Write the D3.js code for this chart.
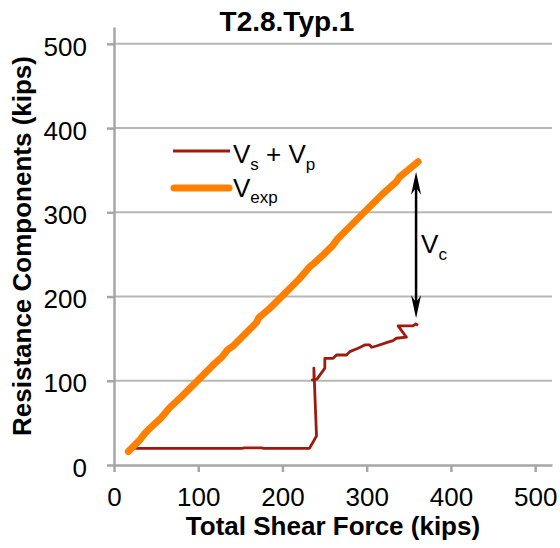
<!DOCTYPE html>
<html>
<head>
<meta charset="utf-8">
<script src="https://cdn.jsdelivr.net/npm/d3@7"></script>
<style>
  html, body { margin: 0; padding: 0; background: #fff; }
  svg { display: block; font-family: "Liberation Sans", Arial, sans-serif; }
</style>
</head>
<body>
<svg id="chart" width="560" height="548"></svg>
<script>
// Total shear force (kips) vs. V_s + V_p (kips)
const vsvpX = [17, 60, 100, 152, 155, 175, 178, 200, 232, 240.4, 237.3, 237.5, 235.5, 241, 250.3, 250.3, 260.1, 264.2, 276, 280, 289.8, 297.7, 303.7, 305.7, 311.6, 323.5, 331.3, 335.3, 347.2, 337.3, 355, 358.2, 361];
const vsvpY = [19.8, 19.8, 19.8, 19.8, 20.3, 20.3, 19.8, 19.8, 19.8, 34.5, 115, 101.5, 101, 102, 115, 126.7, 126.7, 130.6, 130.6, 134.6, 138.6, 142.5, 142.5, 139.8, 141.3, 145.2, 147.6, 150.5, 151.7, 165.1, 165.1, 167.5, 165.9];

// Total shear force (kips) vs. V_exp (kips)
const vexpX = [17, 30, 37, 42, 55, 61, 66, 80, 100, 120, 128, 135, 141, 155, 169, 172, 185, 203, 220, 233, 237, 250, 260, 265, 280, 296, 312, 318, 335, 339, 350, 361];
const vexpY = [16, 29, 38, 43, 55, 62, 68, 81, 101, 121, 128, 137, 141, 155, 169, 175, 186, 204, 221, 236, 239, 251, 261, 268, 283, 299, 315, 321, 336, 342, 351, 360];

const xTicks = [0, 100, 200, 300, 400, 500];
const yTicks = [0, 100, 200, 300, 400, 500];

const chartTitle = "T2.8.Typ.1";
const xTitle = "Total Shear Force (kips)";
const yTitle = "Resistance Components (kips)";

const svg = d3.select("#chart");
const plotLeft = 114, plotRight = 552, plotTop = 27, plotBottom = 465;

const x = d3.scaleLinear().domain([0, 520]).range([plotLeft, plotRight]);
const y = d3.scaleLinear().domain([0, 520]).range([plotBottom, plotTop]);

const axisColor = "#a6a6a6";
const gridColor = "#b7b7b7";
const fontSize = 26;

// horizontal gridlines
svg.append("g")
  .selectAll("line")
  .data(yTicks.filter(d => d > 0))
  .join("line")
  .attr("x1", plotLeft).attr("x2", plotRight)
  .attr("y1", d => y(d)).attr("y2", d => y(d))
  .attr("stroke", gridColor).attr("stroke-width", 2);

// axes
const xAxis = svg.append("g")
  .attr("transform", `translate(0,${plotBottom})`)
  .call(d3.axisBottom(x).tickValues(xTicks).tickSize(7).tickPadding(16).tickSizeOuter(0));
const yAxis = svg.append("g")
  .attr("transform", `translate(${plotLeft},0)`)
  .call(d3.axisLeft(y).tickValues(yTicks).tickSize(7).tickPadding(20).tickSizeOuter(0));

[xAxis, yAxis].forEach(g => {
  g.select(".domain").attr("stroke", axisColor).attr("stroke-width", 2.5);
  g.selectAll(".tick line").attr("stroke", axisColor).attr("stroke-width", 2.5);
  g.selectAll(".tick text")
    .attr("fill", "#000")
    .style("font-size", fontSize + "px")
    .style("font-family", "'Liberation Sans', Arial, sans-serif");
});
xAxis.selectAll(".tick text").attr("dy", "0.71em");
yAxis.selectAll(".tick text").attr("dy", "0.43em");

// series lines
const line = d3.line().x(d => x(d[0])).y(d => y(d[1]));
const vexp = vexpX.map((v, i) => [v, vexpY[i]]);
const vsvp = vsvpX.map((v, i) => [v, vsvpY[i]]);

svg.append("path")
  .datum(vsvp)
  .attr("d", line)
  .attr("fill", "none")
  .attr("stroke", "#a01a0c")
  .attr("stroke-width", 2.8)
  .attr("stroke-linejoin", "round");

svg.append("path")
  .datum(vexp)
  .attr("d", line)
  .attr("fill", "none")
  .attr("stroke", "#ff8000")
  .attr("stroke-width", 7)
  .attr("stroke-linejoin", "round")
  .attr("stroke-linecap", "round");

// V_c double arrow between the two curves at peak load
const last = vexp[vexp.length - 1];
const lastR = vsvp[vsvp.length - 1];
const ax = x(last[0]) - 2;
const aTop = y(last[1]) + 10;
const aBot = y(lastR[1]) - 7;

svg.append("line")
  .attr("x1", ax).attr("x2", ax)
  .attr("y1", aTop + 12).attr("y2", aBot - 12)
  .attr("stroke", "#000").attr("stroke-width", 2.5);

function head(tipY, dir) {
  // dir = 1 -> pointing up, -1 -> pointing down
  const L = 23, W = 5, N = 16;
  return `M${ax},${tipY} L${ax - W},${tipY + dir * L} L${ax},${tipY + dir * N} L${ax + W},${tipY + dir * L} Z`;
}
svg.append("path").attr("d", head(aTop, 1)).attr("fill", "#000");
svg.append("path").attr("d", head(aBot, -1)).attr("fill", "#000");

const vc = svg.append("text")
  .attr("x", ax + 5).attr("y", (aTop + aBot) / 2 + 8)
  .style("font-size", fontSize + "px")
  .attr("fill", "#000");
vc.append("tspan").text("V");
vc.append("tspan").attr("dy", 7).style("font-size", "17px").text("c");

// legend
const lg = svg.append("g");
lg.append("line")
  .attr("x1", 173).attr("x2", 230).attr("y1", 151).attr("y2", 151)
  .attr("stroke", "#a01a0c").attr("stroke-width", 2.8);
lg.append("line")
  .attr("x1", 174).attr("x2", 229).attr("y1", 188).attr("y2", 188)
  .attr("stroke", "#ff8000").attr("stroke-width", 7).attr("stroke-linecap", "round");

const t1 = lg.append("text").attr("x", 233).attr("y", 163)
  .style("font-size", fontSize + "px").attr("fill", "#000");
t1.append("tspan").text("V");
t1.append("tspan").attr("dy", 7).style("font-size", "17px").text("s");
t1.append("tspan").attr("dy", -7).text(" + V");
t1.append("tspan").attr("dy", 7).style("font-size", "17px").text("p");

const t2 = lg.append("text").attr("x", 233).attr("y", 197)
  .style("font-size", fontSize + "px").attr("fill", "#000");
t2.append("tspan").text("V");
t2.append("tspan").attr("dy", 6).style("font-size", "17px").text("exp");

// titles
svg.append("text")
  .attr("x", 287).attr("y", 31)
  .attr("text-anchor", "middle")
  .style("font-size", "28px").style("font-weight", "bold")
  .text(chartTitle);

svg.append("text")
  .attr("x", (plotLeft + plotRight) / 2).attr("y", 535)
  .attr("text-anchor", "middle")
  .style("font-size", fontSize + "px").style("font-weight", "bold")
  .text(xTitle);

svg.append("text")
  .attr("transform", `translate(31,${(plotTop + plotBottom) / 2}) rotate(-90)`)
  .attr("text-anchor", "middle")
  .style("font-size", fontSize + "px").style("font-weight", "bold")
  .text(yTitle);
</script>
</body>
</html>
